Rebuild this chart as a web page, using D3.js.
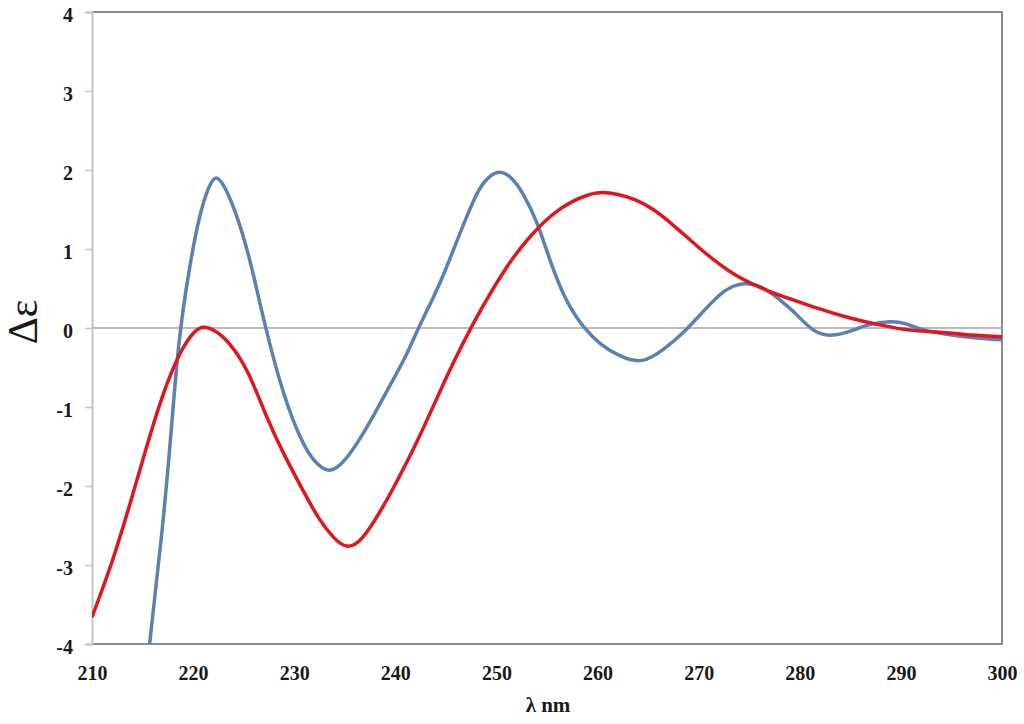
<!DOCTYPE html>
<html>
<head>
<meta charset="utf-8">
<script src="https://cdn.jsdelivr.net/npm/d3@7"></script>
<style>
  html, body { margin: 0; padding: 0; background: #fff; }
  svg { display: block; }
</style>
</head>
<body>
<svg id="chart" width="1024" height="724"></svg>
<script>
// ---- data ----
const xTicks = [210, 220, 230, 240, 250, 260, 270, 280, 290, 300];
const yTicks = [-4, -3, -2, -1, 0, 1, 2, 3, 4];

const blueWavelength = [215.7, 216.9, 217.8, 218.6, 219.6, 220.6, 221.5, 222.3, 223.2, 224.3,
  225.6, 227.1, 228.9, 230.6, 232.0, 233.5, 235.0, 236.5, 238.0, 239.5,
  241.0, 242.3, 243.8, 245.0, 246.4, 248.0, 249.2, 250.4, 251.6, 252.7,
  254.0, 255.3, 256.9, 258.6, 260.3, 262.2, 264.4, 266.6, 268.6, 270.6,
  272.6, 274.5, 276.3, 278.0, 279.6, 281.4, 283.2, 285.0, 286.8, 288.9,
  290.6, 292.2, 294.5, 297.0, 300.0];
const blueDelta = [-4.0, -2.6, -1.35, -0.2, 0.72, 1.38, 1.76, 1.90, 1.76, 1.42,
  0.86, 0.05, -0.8, -1.38, -1.68, -1.80, -1.67, -1.40, -1.07, -0.72,
  -0.36, 0.0, 0.4, 0.75, 1.2, 1.68, 1.9, 1.97, 1.88, 1.68,
  1.33, 0.86, 0.36, 0.02, -0.2, -0.35, -0.41, -0.26, -0.04, 0.23,
  0.47, 0.56, 0.51, 0.36, 0.18, -0.03, -0.09, -0.04, 0.04, 0.08,
  0.05, -0.02, -0.08, -0.12, -0.15];

const redWavelength = [210, 212, 214, 216, 217.5, 218.8, 220, 221, 222.2, 223.6,
  225.4, 227.2, 229.0, 230.8, 232.4, 233.9, 235.2, 236.7, 238.6, 240.4,
  242.2, 244.0, 245.7, 247.6, 249.5, 251.5, 253.5, 255.5, 257.5, 259.9,
  262.0, 263.8, 265.5, 267.5, 270.1, 273.4, 276.7, 279.0, 281.5, 284.6,
  287.9, 291.2, 294.5, 297.0, 300];
const redDelta = [-3.66, -2.95, -2.12, -1.25, -0.68, -0.3, -0.07, 0.01, -0.04, -0.2,
  -0.56, -1.1, -1.6, -2.04, -2.4, -2.65, -2.76, -2.66, -2.3, -1.88,
  -1.42, -0.92, -0.45, 0.03, 0.46, 0.86, 1.18, 1.43, 1.6, 1.71,
  1.69, 1.62, 1.5, 1.3, 1.01, 0.69, 0.48, 0.37, 0.26, 0.14,
  0.04, -0.03, -0.06, -0.09, -0.11];

const xLabel = "λ nm";
const yLabel = "Δε";

// ---- layout ----
const svg = d3.select("#chart");
const plotLeft = 92, plotRight = 1002, plotTop = 12, plotBottom = 644;
const serif = "'Liberation Serif', 'Times New Roman', Times, serif";

const x = d3.scaleLinear().domain([210, 300]).range([plotLeft, plotRight]);
const y = d3.scaleLinear().domain([-4, 4]).range([plotBottom, plotTop]);

svg.append("rect").attr("width", 1024).attr("height", 724).attr("fill", "#fff");

// plot-area border (top, right, bottom)
svg.append("path")
  .attr("d", `M${plotLeft},${plotTop}H${plotRight}V${plotBottom}H${plotLeft}`)
  .attr("fill", "none")
  .attr("stroke", "#8c8c8c")
  .attr("stroke-width", 2);

// zero (category) axis line
svg.append("line")
  .attr("x1", plotLeft).attr("x2", plotRight)
  .attr("y1", y(0)).attr("y2", y(0))
  .attr("stroke", "#a6a6a6").attr("stroke-width", 1.5);

// value axis
const yAxis = d3.axisLeft(y).tickValues(yTicks).tickSize(7).tickPadding(12)
  .tickFormat(d => String(d));
const gy = svg.append("g").attr("transform", `translate(${plotLeft},0)`).call(yAxis);
gy.select(".domain").attr("stroke", "#c4c4c4").attr("stroke-width", 2);
gy.selectAll(".tick line").attr("stroke", "#c4c4c4").attr("stroke-width", 1.5);
gy.selectAll(".tick text")
  .attr("font-family", serif)
  .attr("font-weight", "bold")
  .attr("font-size", 20)
  .attr("fill", "#1a1a1a")
  .attr("dy", "0.45em");

// category labels along bottom (no tick marks)
const xAxis = d3.axisBottom(x).tickValues(xTicks).tickSize(0).tickPadding(22)
  .tickFormat(d => String(d));
const gx = svg.append("g").attr("transform", `translate(0,${plotBottom})`).call(xAxis);
gx.select(".domain").remove();
gx.selectAll(".tick text")
  .attr("font-family", serif)
  .attr("font-weight", "bold")
  .attr("font-size", 20)
  .attr("fill", "#1a1a1a");

// clip
svg.append("clipPath").attr("id", "plotclip")
  .append("rect").attr("x", plotLeft).attr("y", plotTop)
  .attr("width", plotRight - plotLeft).attr("height", plotBottom - plotTop);

const line = d3.line()
  .x(d => x(d[0])).y(d => y(d[1]))
  .curve(d3.curveNatural);

const blue = blueWavelength.map((w, i) => [w, blueDelta[i]]);
const red = redWavelength.map((w, i) => [w, redDelta[i]]);

const lines = svg.append("g").attr("clip-path", "url(#plotclip)");
lines.append("path").datum(blue)
  .attr("d", line).attr("fill", "none")
  .attr("stroke", "#5b80b4").attr("stroke-width", 3.5)
  .attr("stroke-linejoin", "round");
lines.append("path").datum(red)
  .attr("d", line).attr("fill", "none")
  .attr("stroke", "#e0161e").attr("stroke-width", 3.5)
  .attr("stroke-linejoin", "round");

// axis titles
svg.append("text")
  .attr("x", 548).attr("y", 712)
  .attr("text-anchor", "middle")
  .attr("font-family", serif)
  .attr("font-weight", "bold")
  .attr("font-size", 21)
  .attr("fill", "#1a1a1a")
  .text(xLabel);

svg.append("text")
  .attr("transform", "translate(37,322) rotate(-90)")
  .attr("text-anchor", "middle")
  .attr("font-family", serif)
  .attr("font-size", 42)
  .attr("fill", "#1a1a1a")
  .text(yLabel);
</script>
</body>
</html>
